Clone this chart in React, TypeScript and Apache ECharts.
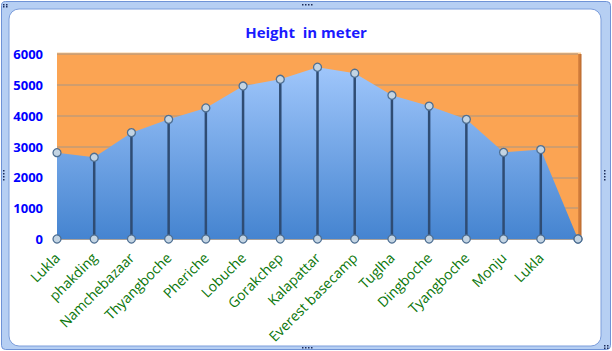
import React, { useEffect, useRef } from "react";
import * as echarts from "echarts";

const categories = [
  "Lukla", "phakding", "Namchebazaar", "Thyangboche", "Pheriche", "Lobuche",
  "Gorakchep", "Kalapattar", "Everest basecamp", "Tuglha", "Dingboche",
  "Tyangboche", "Monju", "Lukla", "",
];
const heights = [2800, 2650, 3450, 3880, 4250, 4960, 5180, 5570, 5375, 4660, 4310, 3880, 2810, 2900, 0];
const yMin = 0;
const yMax = 6000;
const yStep = 1000;
const titleText = "Height  in meter";

export default function App() {
  const ref = useRef<HTMLDivElement>(null);
  useEffect(() => {
    document.body.style.margin = "0";
    const chart = echarts.init(ref.current!, null, { renderer: "svg" });
    const dropData = heights.map((v, i) => (i === 0 ? null : v));
    const baseData = heights.map(() => 0);
    const L = 57, T = 54, R = 578, B = 239;
    const dots = (x: number, y: number, n: number, vertical = false) =>
      Array.from({ length: n }).map((_, i) => ({
        type: "rect",
        shape: { x: vertical ? x : x + i * 3, y: vertical ? y + i * 3 : y, width: 1.5, height: 1.5 },
        style: { fill: "#1c2c5a" },
        z: 10,
      }));
    chart.setOption({
      animation: false,
      backgroundColor: "#ffffff",
      title: {
        text: titleText,
        left: "center",
        top: 19,
        textStyle: { color: "#1a1aff", fontSize: 15, fontWeight: "bold", fontFamily: "Open Sans" },
      },
      grid: {
        left: L, right: 612 - R, top: T, bottom: 351 - B,
        show: true, backgroundColor: "#fba453", borderWidth: 0,
      },
      graphic: [
        { type: "rect", shape: { x: 1.5, y: 1.5, width: 609, height: 348, r: 4 }, style: { fill: "#b6cff3", stroke: "#6f93d6", lineWidth: 1 }, z: -10 },
        { type: "rect", shape: { x: 9, y: 9, width: 592, height: 337, r: [10, 10, 10, 10] }, style: { fill: "#ffffff", stroke: "#7d9edb", lineWidth: 1 }, z: -9 },
        { type: "rect", shape: { x: L, y: T - 1.5, width: R - L + 3, height: 3 }, style: { fill: "#fdd09a" }, z: -1 },
        { type: "rect", shape: { x: R, y: T, width: 3.5, height: B - T }, style: { fill: new echarts.graphic.LinearGradient(0, 0, 1, 0, [{ offset: 0, color: "#e08a45" }, { offset: 1, color: "#b8672b" }]) }, z: -1 },
        ...dots(3, 4, 2), ...dots(3, 6, 2),
        ...dots(302, 4, 4),
        ...dots(3, 170, 4, true),
        ...dots(604, 170, 4, true),
        ...dots(302, 347, 4),
        ...dots(604, 345, 2), ...dots(604, 347.5, 2),
      ],
      xAxis: {
        type: "category",
        data: categories,
        boundaryGap: false,
        axisLine: { show: true, lineStyle: { color: "#a8a09a", width: 2 } },
        axisTick: { show: false },
        axisLabel: {
          interval: 0, rotate: 45, margin: 16,
          color: "#0a760a", fontSize: 14, fontFamily: "Open Sans",
        },
        splitLine: { show: false },
      },
      yAxis: {
        type: "value",
        min: yMin, max: yMax, interval: yStep,
        axisLine: { show: false },
        axisTick: { show: false },
        axisLabel: {
          margin: 14, color: "#0000ff", fontSize: 13, fontWeight: "bold", fontFamily: "Open Sans",
          formatter: (v: number) => String(v),
        },
        splitLine: { show: true, lineStyle: { color: "#c29b76", width: 1.5 } },
      },
      series: [
        {
          type: "line",
          data: heights,
          symbol: "none",
          lineStyle: { width: 0 },
          areaStyle: {
            opacity: 1,
            color: new echarts.graphic.LinearGradient(0, 0, 0, 1, [
              { offset: 0, color: "#9fc6fb" },
              { offset: 1, color: "#4584d0" },
            ]),
          },
          z: 1,
        },
        {
          type: "bar",
          data: dropData,
          barWidth: 2.5,
          itemStyle: { color: "#2f4c73" },
          z: 2,
        },
        {
          type: "line",
          data: heights,
          symbol: "circle",
          symbolSize: 8,
          showAllSymbol: true,
          lineStyle: { width: 0, opacity: 0 },
          itemStyle: { color: "#c3d4e3", borderColor: "#4e6f93", borderWidth: 1.3 },
          z: 3,
        },
        {
          type: "line",
          data: baseData,
          symbol: "circle",
          symbolSize: 8,
          showAllSymbol: true,
          lineStyle: { width: 0, opacity: 0 },
          itemStyle: { color: "#c3d4e3", borderColor: "#4e6f93", borderWidth: 1.3 },
          z: 3,
        },
      ],
    });
    return () => chart.dispose();
  }, []);
  return <div ref={ref} style={{ position: "absolute", left: 0, top: 0, width: 612, height: 351 }} />;
}
